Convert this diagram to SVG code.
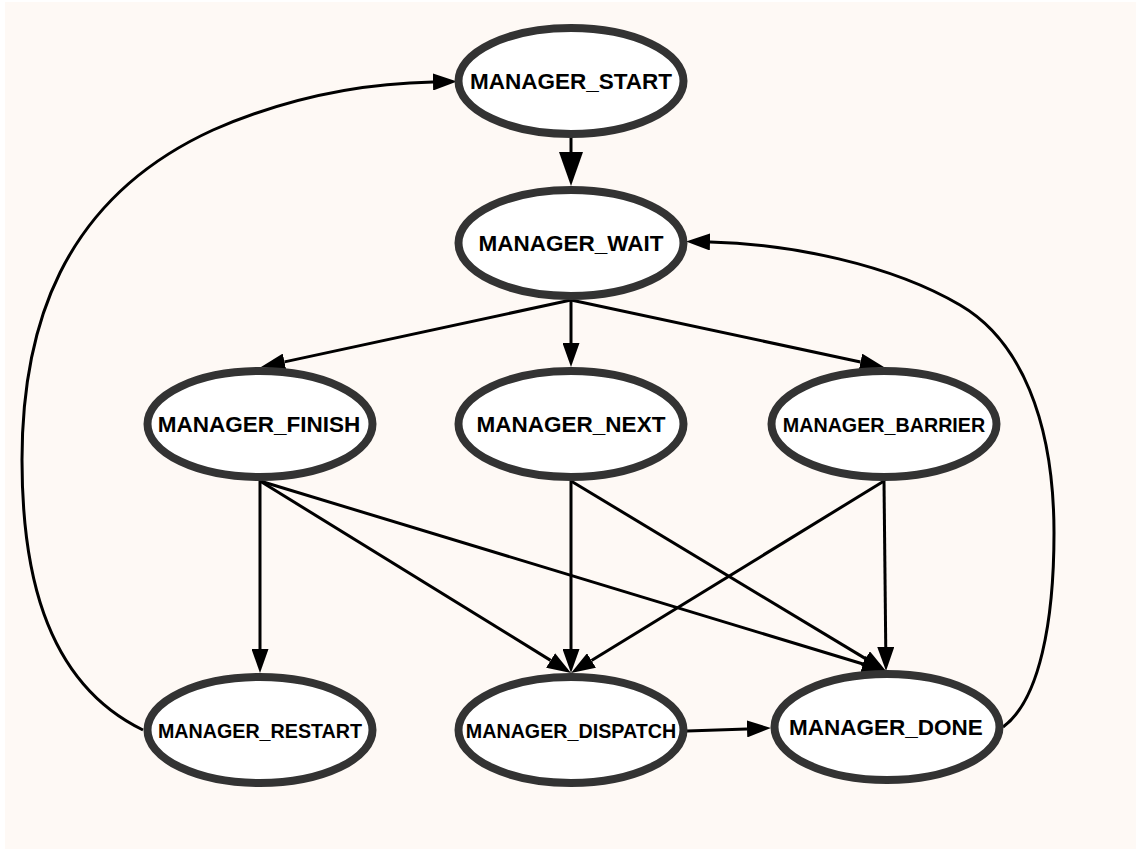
<svg xmlns="http://www.w3.org/2000/svg" width="1136" height="849" viewBox="0 0 1136 849">
  <style>
    .node ellipse { fill: #ffffff; stroke: #333333; stroke-width: 8; }
    .node text { font-family: "Liberation Sans", Arial, sans-serif; font-weight: bold; fill: #000000; text-anchor: middle; }
    .big { font-size: 22.5px; }
    .small { font-size: 19.7px; }
    .edge { fill: none; stroke: #000000; stroke-width: 3; }
    .edge.arr { marker-end: url(#arrow); }
    .edge.arrbig { marker-end: url(#arrowBig); }
  </style>
  <defs>
    <!-- arrowheads: the base sits on the path end, the point reaches the node outline -->
    <marker id="arrow" markerUnits="userSpaceOnUse" viewBox="0 0 24 17" markerWidth="24" markerHeight="17" refX="0" refY="8.5" orient="auto">
      <path d="M0,0 L24,8.5 L0,17 z" fill="#000000"/>
    </marker>
    <marker id="arrowBig" markerUnits="userSpaceOnUse" viewBox="0 0 34 24" markerWidth="34" markerHeight="24" refX="0" refY="12" orient="auto">
      <path d="M0,0 L34,12 L0,24 z" fill="#000000"/>
    </marker>
  </defs>

  <rect x="5" y="2" width="1131" height="847" fill="#fef9f5"/>

  <g id="connectors">
    <path class="edge arrbig" d="M571,138 L571,152"/>
    <path class="edge arr" d="M571,300 L284.5,361.9"/>
    <path class="edge arr" d="M571,300 L571,343"/>
    <path class="edge arr" d="M571,300 L860.5,362"/>
    <path class="edge arr" d="M260,481 L260,649"/>
    <path class="edge arr" d="M260,481 L550.6,660.4"/>
    <path class="edge arr" d="M260,481 L863,664"/>
    <path class="edge arr" d="M571,481 L571,649"/>
    <path class="edge arr" d="M571,481 L865.5,658.6"/>
    <path class="edge arr" d="M884,481 L591.5,660.5"/>
    <path class="edge arr" d="M884,481 L885.75,647"/>
    <path class="edge arr" d="M687,731 L747,728.9"/>
    <!-- DONE back to WAIT, around the right side -->
    <path class="edge arr" d="M1003,727 C1040,700 1054,620 1054,533 C1054,420 1020,340 960,305 C890,264 790,244 710,242"/>
    <!-- RESTART back to START, around the left side -->
    <path class="edge arr" d="M143,730 C40,680 22,560 22,460 C22,330 60,200 213,130 C300,92 380,83 433,82"/>
  </g>

  <g id="MANAGER_START" class="node">
    <ellipse cx="571" cy="81" rx="112.5" ry="53"/>
    <text class="big" x="571" y="89">MANAGER_START</text>
  </g>
  <g id="MANAGER_WAIT" class="node">
    <ellipse cx="571" cy="243" rx="112.5" ry="53"/>
    <text class="big" x="571" y="251">MANAGER_WAIT</text>
  </g>
  <g id="MANAGER_FINISH" class="node">
    <ellipse cx="260" cy="424" rx="112.5" ry="53"/>
    <text class="big" x="259" y="432">MANAGER_FINISH</text>
  </g>
  <g id="MANAGER_NEXT" class="node">
    <ellipse cx="571" cy="424" rx="112.5" ry="53"/>
    <text class="big" x="571" y="432">MANAGER_NEXT</text>
  </g>
  <g id="MANAGER_BARRIER" class="node">
    <ellipse cx="884" cy="424" rx="112.5" ry="53"/>
    <text class="small" x="884" y="431.5">MANAGER_BARRIER</text>
  </g>
  <g id="MANAGER_RESTART" class="node">
    <ellipse cx="260" cy="730" rx="112.5" ry="53"/>
    <text class="small" x="260" y="737.5">MANAGER_RESTART</text>
  </g>
  <g id="MANAGER_DISPATCH" class="node">
    <ellipse cx="571" cy="730" rx="112.5" ry="53"/>
    <text class="small" x="571" y="737.5">MANAGER_DISPATCH</text>
  </g>
  <g id="MANAGER_DONE" class="node">
    <ellipse cx="887" cy="727" rx="112.5" ry="53"/>
    <text class="big" x="886" y="735">MANAGER_DONE</text>
  </g>
</svg>
